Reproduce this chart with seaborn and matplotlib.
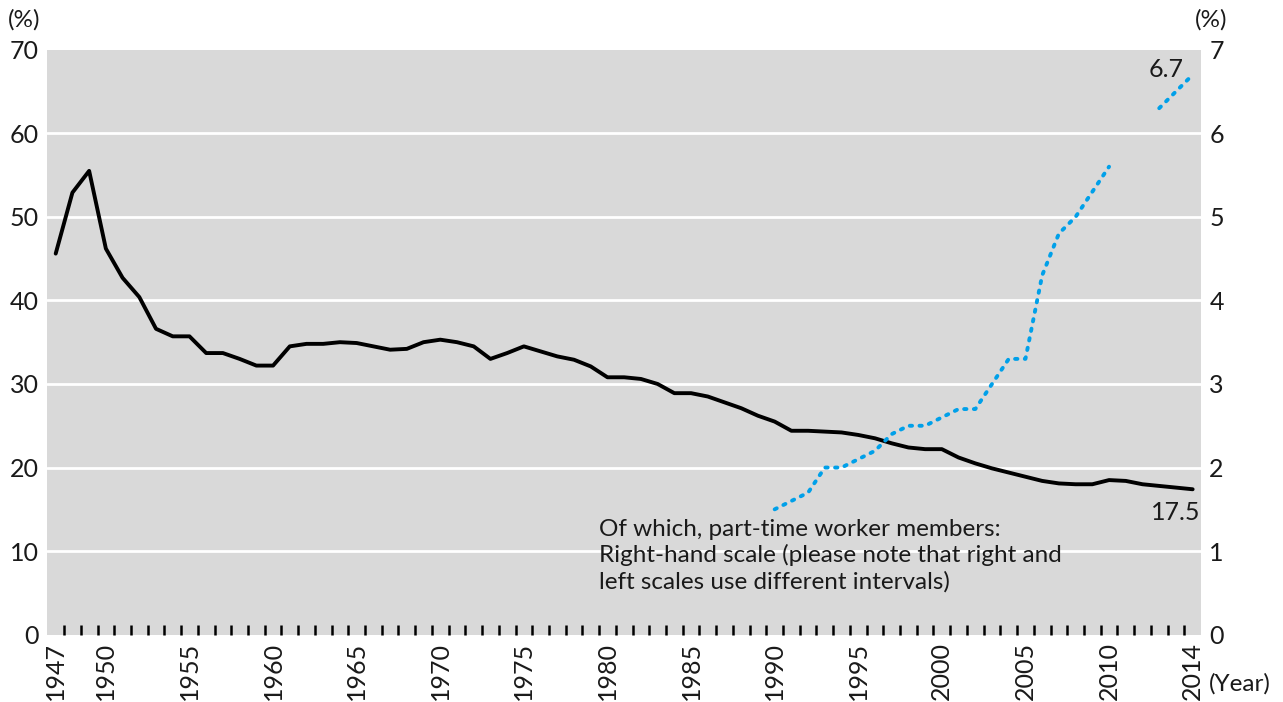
import numpy as np
import pandas as pd
import matplotlib
matplotlib.use("Agg")
import matplotlib.pyplot as plt
import seaborn as sns

# categories on the x axis (one slot per survey, the chart has an extra slot after 2010)
periods = [str(y) for y in range(1947, 2011)] + ["2011", "2011*", "2012", "2013", "2014"]
tick_labels = ["1947", "1950", "1955", "1960", "1965", "1970", "1975", "1980",
               "1985", "1990", "1995", "2000", "2005", "2010", "2014"]

# estimated unionization rate (%), left scale
union_rate = [45.6, 52.9, 55.5, 46.2, 42.7, 40.4, 36.6, 35.7, 35.7, 33.7,
              33.7, 33.0, 32.2, 32.2, 34.5, 34.8, 34.8, 35.0, 34.9, 34.5,
              34.1, 34.2, 35.0, 35.3, 35.0, 34.5, 33.0, 33.7, 34.5, 33.9,
              33.3, 32.9, 32.1, 30.8, 30.8, 30.6, 30.0, 28.9, 28.9, 28.5,
              27.8, 27.1, 26.2, 25.5, 24.4, 24.4, 24.3, 24.2, 23.9, 23.5,
              22.9, 22.4, 22.2, 22.2, 21.2, 20.5, 19.9, 19.4, 18.9, 18.4,
              18.1, 18.0, 18.0, 18.5, 18.4, 18.0, 17.8, 17.6, 17.4]

# part-time worker members (%), right scale, from 1990
parttime_rate = [np.nan] * 43 + [1.5, 1.6, 1.7, 2.0, 2.0, 2.1, 2.2, 2.4, 2.5, 2.5,
                                 2.6, 2.7, 2.7, 3.0, 3.3, 3.3, 4.3, 4.8, 5.0, 5.3,
                                 5.6, np.nan, np.nan, 6.3, 6.5, 6.7]

df = pd.DataFrame({"period": periods, "union": union_rate, "parttime": parttime_rate})
df["pos"] = np.arange(len(df))
# split the dotted series into its unbroken pieces
df["piece"] = df["parttime"].isna().cumsum()
pt = df.dropna(subset=["parttime"])

sns.set_theme(style="white")
plt.rcParams["font.family"] = ["Lato", "DejaVu Sans"]
txt = "#1a1a1a"

fig = plt.figure(figsize=(12.83, 7.02), dpi=100)
ax = fig.add_axes([0.0369, 0.0959, 0.8992, 0.8333])
ax.set_facecolor("#d9d9d9")
for s in ax.spines.values():
    s.set_visible(False)

sns.lineplot(data=df, x="pos", y="union", ax=ax, color="black", linewidth=2.8,
             estimator=None, sort=False, legend=False)

ax2 = ax.twinx()
for s in ax2.spines.values():
    s.set_visible(False)
sns.lineplot(data=pt, x="pos", y="parttime", units="piece", estimator=None, ax=ax2,
             color="#00a0e9", linewidth=2.8, linestyle=(0, (0.6, 1.9)),
             dash_capstyle="round", legend=False)

ax.set_xlim(-0.5, len(periods) - 0.5)
ax.set_ylim(0, 70)
ax2.set_ylim(0, 7)
ax.set_yticks(np.arange(0, 71, 10))
ax2.set_yticks(np.arange(0, 8, 1))

# white gridlines, none on the frame edges
ax.grid(axis="y", color="white", linewidth=2)
ax.set_axisbelow(True)
gl = ax.get_ygridlines()
gl[0].set_visible(False)
gl[-1].set_visible(False)

ax.tick_params(axis="y", length=0, pad=6, labelsize=18, labelcolor=txt)
ax2.tick_params(axis="y", length=0, pad=6, labelsize=18, labelcolor=txt)

tick_pos = [periods.index(t) if t != "2014" else len(periods) - 1 for t in tick_labels]
ax.set_xticks(tick_pos)
ax.set_xticklabels(tick_labels, rotation=90, fontsize=18, color=txt)
ax.set_xticks(np.arange(0.5, len(periods) - 1, 1), minor=True)
ax.tick_params(axis="x", which="major", length=0, pad=5)
ax.tick_params(axis="x", which="minor", direction="in", length=7, width=1.8,
               color="black", bottom=True)
ax.set_xlabel("")
ax.set_ylabel("")
ax2.set_ylabel("")

fig.text(8 / 1283, 1 - 20 / 702, "(%)", fontsize=17.5, color=txt, ha="left", va="center")
fig.text(1195 / 1283, 1 - 20 / 702, "(%)", fontsize=17.5, color=txt, ha="left", va="center")
fig.text(1209 / 1283, 1 - 684 / 702, "(Year)", fontsize=17.5, color=txt, ha="left", va="center")

ax2.text(66.4, 6.76, "6.7", fontsize=18, color=txt, ha="center", va="center")
ax.text(68.45, 14.6, "17.5", fontsize=18, color=txt, ha="right", va="center")
ax.text(32.5, 13.9,
        "Of which, part-time worker members:\n"
        "Right-hand scale (please note that right and\n"
        "left scales use different intervals)",
        fontsize=17.5, color=txt, ha="left", va="top", linespacing=1.27)

fig.savefig("out.png", dpi=100)
